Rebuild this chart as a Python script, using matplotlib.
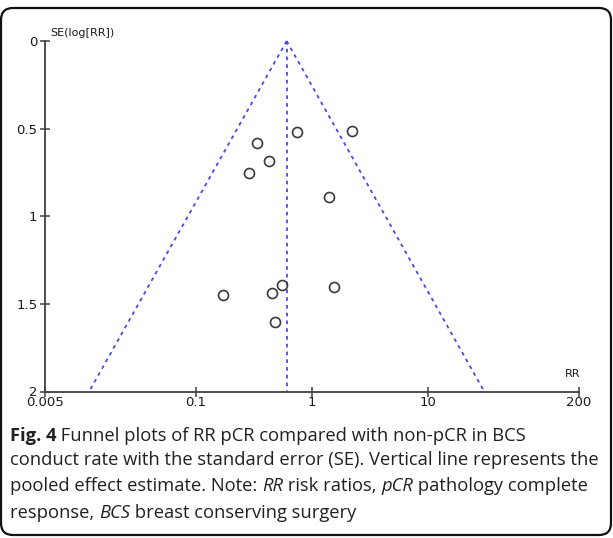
import matplotlib
matplotlib.use('Agg')
import matplotlib.pyplot as plt
from matplotlib.text import Annotation
import numpy as np
from matplotlib.patches import FancyBboxPatch
from matplotlib.transforms import IdentityTransform

# ---- data ----
rr = [0.747, 2.2, 0.338, 0.426, 0.285, 1.41, 0.172, 0.452, 0.551, 1.55, 0.48]
se = [0.518, 0.512, 0.584, 0.686, 0.752, 0.892, 1.451, 1.440, 1.394, 1.404, 1.605]
pooled_rr = 0.605
x_ticks = [0.005, 0.1, 1, 10, 200]
x_tick_labels = ['0.005', '0.1', '1', '10', '200']
y_ticks = [0, 0.5, 1, 1.5, 2]
y_tick_labels = ['0', '0.5', '1', '1.5', '2']
y_label = 'SE(log[RR])'
x_label = 'RR'
caption_lines = [
    [('Fig. 4', 'bold', 'normal'), (' Funnel plots of RR pCR compared with non-pCR in BCS', 'normal', 'normal')],
    [('conduct rate with the standard error (SE). Vertical line represents the', 'normal', 'normal')],
    [('pooled effect estimate. Note: ', 'normal', 'normal'), ('RR', 'normal', 'italic'),
     (' risk ratios, ', 'normal', 'normal'), ('pCR', 'normal', 'italic'),
     (' pathology complete', 'normal', 'normal')],
    [('response, ', 'normal', 'normal'), ('BCS', 'normal', 'italic'),
     (' breast conserving surgery', 'normal', 'normal')],
]

W, H = 613, 538
fig = plt.figure(figsize=(W / 100, H / 100), dpi=100)
ax_left, ax_right, ax_top, ax_bottom = 45, 579, 41, 391.5
ax = fig.add_axes([ax_left / W, 1 - ax_bottom / H, (ax_right - ax_left) / W, (ax_bottom - ax_top) / H])
ax.set_xscale('log')
ax.set_xlim(x_ticks[0], x_ticks[-1])
ax.set_ylim(y_ticks[-1], y_ticks[0])
ax.set_facecolor('none')

funnel_color = '#4848f2'
dash = (0, (2.0, 2.3))
se_range = np.array([y_ticks[0], y_ticks[-1]])
ax.plot(pooled_rr * np.exp(-1.96 * se_range), se_range, color=funnel_color,
        linestyle=dash, linewidth=1.3, clip_on=False)
ax.plot(pooled_rr * np.exp(1.96 * se_range), se_range, color=funnel_color,
        linestyle=dash, linewidth=1.3, clip_on=False)
ax.plot([pooled_rr, pooled_rr], se_range, color=funnel_color,
        linestyle=dash, linewidth=1.3, clip_on=False)

ax.plot(rr, se, linestyle='none', marker='o', markersize=7.2,
        markerfacecolor='none', markeredgecolor='#3a3a3a', markeredgewidth=1.2, clip_on=False)

for s in ['top', 'right']:
    ax.spines[s].set_visible(False)
for s in ['left', 'bottom']:
    ax.spines[s].set_color('#404040')
    ax.spines[s].set_linewidth(1.3)

ax.minorticks_off()
ax.set_xticks(x_ticks)
ax.set_xticklabels(x_tick_labels)
ax.set_yticks(y_ticks)
ax.set_yticklabels(y_tick_labels)
ax.tick_params(axis='both', direction='inout', length=7, width=1.1, color='#404040',
               labelsize=9.5, labelcolor='#1a1a1a')
ax.tick_params(axis='x', pad=0)
ax.tick_params(axis='y', pad=2)

fig.text(50 / W, 1 - 33 / H, y_label, fontsize=8, ha='left', va='center', color='#1a1a1a')
fig.text(573 / W, 1 - 374 / H, x_label, fontsize=8, ha='center', va='center', color='#1a1a1a')

# ---- caption ----
cap_font = 'Open Sans'
cap_size = 13.2
baselines = [441, 465, 491, 518]
for line, base in zip(caption_lines, baselines):
    y = 1 - base / H
    prev = None
    for txt, weight, style in line:
        if prev is None:
            prev = fig.text(10 / W, y, txt, fontsize=cap_size, family=cap_font,
                            fontweight=weight, fontstyle=style, ha='left', va='baseline',
                            color='#231f20')
        else:
            prev = fig.add_artist(Annotation(
                txt, xy=(1, y), xycoords=(prev, 'figure fraction'),
                fontsize=cap_size, family=cap_font, fontweight=weight, fontstyle=style,
                ha='left', va='baseline', color='#231f20'))

# ---- rounded border ----
box = FancyBboxPatch((1, 3), 610, 527, boxstyle='round,pad=0,rounding_size=12',
                     transform=IdentityTransform(), fill=False, edgecolor='#111111',
                     linewidth=1.6)
fig.patches.append(box)

fig.savefig('out.png', dpi=100)
